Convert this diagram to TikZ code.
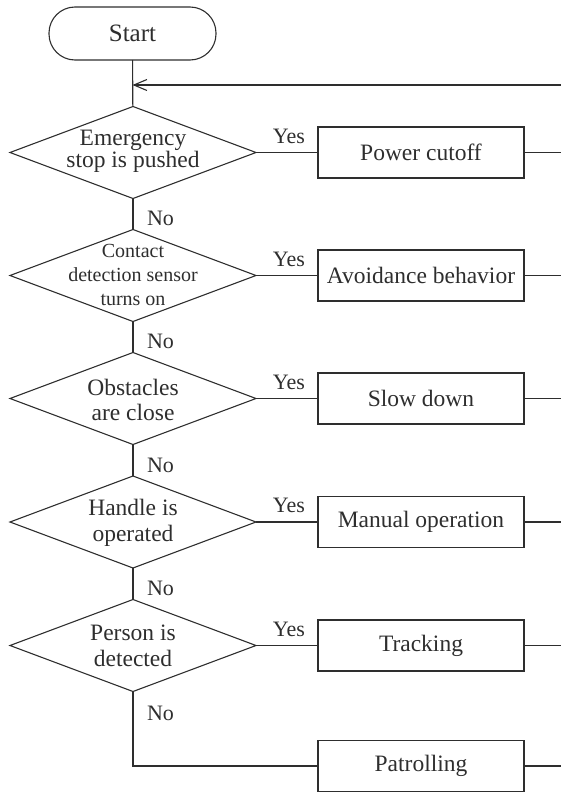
\documentclass[tikz,border=0pt]{standalone}
\usepackage{fontspec}
\setmainfont{Liberation Serif}
\usetikzlibrary{shapes.geometric,arrows.meta}
\definecolor{ink}{HTML}{2E2E2E}
\begin{document}
\begin{tikzpicture}[x=1pt,y=-1pt,
  every node/.style={inner sep=0pt, outer sep=0pt, text=ink},
  conn/.style={draw=ink, line width=1.1pt},
  termbox/.style={draw=ink, line width=1.1pt, rectangle, rounded corners=26pt,
    minimum width=167pt, minimum height=53pt, font=\fontsize{25}{27}\selectfont},
  dia/.style={draw=ink, line width=1.1pt, diamond, aspect=2.67,
    minimum width=246pt, minimum height=92pt, inner sep=0pt},
  dtext/.style={align=center, font=\fontsize{23.5}{25.5}\selectfont},
  actbox/.style={draw=ink, line width=1.1pt, rectangle,
    minimum width=206pt, minimum height=51pt, font=\fontsize{23.5}{26}\selectfont},
  lab/.style={font=\fontsize{22}{24}\selectfont},
  yeslab/.style={lab, midway, anchor=base, yshift=9.5pt, xshift=2pt}
]
\useasboundingbox (0,0) rectangle (561,792);

% start
\node[termbox] (start) at (132.5,33.5) {Start};

% decisions
\node[dia] (d1) at (133,152.5) {};
\node[dia] (d2) at (133,275.5) {};
\node[dia] (d3) at (133,398.5) {};
\node[dia] (d4) at (133,522) {};
\node[dia] (d5) at (133,645.5) {};

\node[dtext, font=\fontsize{23.5}{22}\selectfont] (t1) at (133,151) {Emergency\\stop is pushed};
\node[dtext, font=\fontsize{20}{24}\selectfont] (t2) at (133,275) {Contact\\detection sensor\\turns on};
\node[dtext] (t3) at (133,400) {Obstacles\\are close};
\node[dtext] (t4) at (133,523) {Handle is\\operated};
\node[dtext] (t5) at (133,646) {Person is\\detected};

% actions
\node[actbox] (b1) at (421,152.5) {Power cutoff};
\node[actbox] (b2) at (421,275.5) {Avoidance behavior};
\node[actbox] (b3) at (421,398.5) {Slow down};
\node[actbox] (b4) at (421,522) {Manual operation};
\node[actbox] (b5) at (421,645.5) {Tracking};
\node[actbox] (b6) at (421,766) {Patrolling};

% return line at the right edge
\coordinate (rin) at (561,85);

% vertical flow
\draw[conn] (start) -- (d1);
\draw[conn, -{Straight Barb[length=13pt,width=11pt,line width=1.1pt]}] (rin) -- (rin -| start);
\draw[conn] (d1) -- (d2);
\draw[conn] (d2) -- (d3);
\draw[conn] (d3) -- (d4);
\draw[conn] (d4) -- (d5);
\draw[conn] (d5.south) |- (b6.west);

% No labels
\node[lab, anchor=base west] (n1) at (147,225) {No};
\node[lab, anchor=base west] (n2) at (147,348) {No};
\node[lab, anchor=base west] (n3) at (147,472.5) {No};
\node[lab, anchor=base west] (n4) at (147,595.5) {No};
\node[lab, anchor=base west] (n5) at (147,720) {No};

% Yes branches
\draw[conn] (d1) -- node[yeslab] {Yes} (b1);
\draw[conn] (d2) -- node[yeslab] {Yes} (b2);
\draw[conn] (d3) -- node[yeslab] {Yes} (b3);
\draw[conn] (d4) -- node[yeslab] {Yes} (b4);
\draw[conn] (d5) -- node[yeslab] {Yes} (b5);

% outgoing lines to the right edge
\foreach \b in {b1,b2,b3,b4,b5,b6}
  \draw[conn] (\b.east) -- (\b.east -| rin);
\end{tikzpicture}
\end{document}
